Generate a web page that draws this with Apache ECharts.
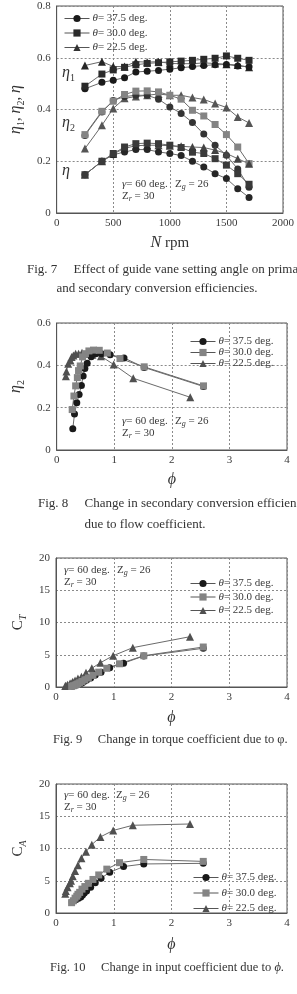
<!DOCTYPE html>
<html>
<head>
<meta charset="utf-8">
<script src="https://cdn.jsdelivr.net/npm/echarts@6/dist/echarts.min.js"></script>
<style>
  html, body { margin: 0; padding: 0; background: #fff; }
  #chart { width: 297px; height: 994px; }
</style>
</head>
<body>
<div id="chart"></div>
<script>
// rotational speed (Fig. 7) - every curve has one point per speed
const N_RPM = [250, 400, 500, 600, 700, 800, 900, 1000, 1100, 1200, 1300, 1400, 1500, 1600, 1700];

// primary efficiency eta1
const ETA1_375 = [0.48, 0.505, 0.513, 0.523, 0.545, 0.548, 0.551, 0.556, 0.561, 0.566, 0.57, 0.573, 0.574, 0.568, 0.565];
const ETA1_300 = [0.49, 0.537, 0.553, 0.563, 0.573, 0.578, 0.581, 0.584, 0.587, 0.59, 0.594, 0.598, 0.607, 0.598, 0.59];
const ETA1_225 = [0.57, 0.585, 0.566, 0.566, 0.585, 0.583, 0.585, 0.578, 0.577, 0.577, 0.58, 0.578, 0.575, 0.572, 0.563];

// secondary efficiency eta2
const ETA2_375 = [0.30, 0.39, 0.435, 0.45, 0.455, 0.455, 0.44, 0.41, 0.385, 0.35, 0.305, 0.262, 0.223, 0.17, 0.10];
const ETA2_300 = [0.303, 0.393, 0.432, 0.458, 0.471, 0.472, 0.468, 0.455, 0.44, 0.397, 0.375, 0.342, 0.303, 0.255, 0.191];
const ETA2_225 = [0.249, 0.339, 0.404, 0.443, 0.45, 0.455, 0.46, 0.455, 0.455, 0.446, 0.439, 0.423, 0.408, 0.371, 0.348];

// total efficiency eta
const ETA_375 = [0.148, 0.2, 0.225, 0.236, 0.245, 0.245, 0.236, 0.23, 0.222, 0.2, 0.178, 0.152, 0.133, 0.094, 0.06];
const ETA_300 = [0.148, 0.2, 0.23, 0.255, 0.268, 0.27, 0.268, 0.262, 0.253, 0.235, 0.23, 0.21, 0.185, 0.152, 0.111];
const ETA_225 = [0.148, 0.2, 0.228, 0.25, 0.26, 0.262, 0.262, 0.26, 0.258, 0.255, 0.253, 0.243, 0.23, 0.21, 0.19];

// flow coefficient phi, same speed order
const PHI_375 = [2.55, 1.52, 1.17, 0.93, 0.78, 0.68, 0.6, 0.53, 0.49, 0.46, 0.43, 0.39, 0.35, 0.31, 0.28];
const PHI_300 = [2.55, 1.52, 1.1, 0.88, 0.74, 0.64, 0.56, 0.5, 0.45, 0.41, 0.38, 0.36, 0.33, 0.3, 0.27];
const PHI_225 = [2.32, 1.33, 0.99, 0.77, 0.62, 0.52, 0.44, 0.38, 0.33, 0.29, 0.26, 0.24, 0.2, 0.17, 0.16];

// torque coefficient CT (Fig. 9)
const CT_375 = [6.0, 4.8, 3.7, 3.0, 2.3, 1.85, 1.4, 1.1, 0.9, 0.7, 0.55, 0.4, 0.3, 0.2, 0.1];
const CT_300 = [6.2, 4.85, 3.6, 2.9, 2.3, 1.8, 1.4, 1.1, 0.85, 0.65, 0.5, 0.4, 0.3, 0.2, 0.1];
const CT_225 = [7.8, 6.1, 4.85, 3.77, 2.9, 2.2, 1.6, 1.3, 1.0, 0.8, 0.6, 0.5, 0.35, 0.2, 0.15];

// input coefficient CA (Fig. 10)
const CA_375 = [7.7, 7.6, 7.2, 6.3, 5.4, 4.7, 4.0, 3.4, 3.1, 2.8, 2.5, 2.3, 2.1, 1.9, 1.7];
const CA_300 = [8.0, 8.3, 7.8, 6.8, 5.9, 5.2, 4.6, 4.1, 3.7, 3.2, 2.9, 2.6, 2.3, 1.9, 1.6];
const CA_225 = [13.8, 13.6, 12.8, 11.8, 10.6, 9.5, 8.5, 7.4, 6.5, 5.7, 5.0, 4.6, 4.0, 3.4, 3.0];

const ANGLES = ['37.5', '30.0', '22.5'];

const SERIF = '"Liberation Serif", "DejaVu Serif", serif';
const INK = '#3a3a3a';
const MARKS = {
  '37.5': { symbol: 'circle', size: 7 },
  '30.0': { symbol: 'rect', size: 7 },
  '22.5': { symbol: 'triangle', size: 8 }
};

const chart = echarts.init(document.getElementById('chart'), null, { renderer: 'canvas' });

function pairs(xs, ys) {
  return xs.map((x, i) => [x, ys[i]]);
}

function curve(name, idx, xs, ys, color) {
  return {
    type: 'line',
    name: name,
    xAxisIndex: idx,
    yAxisIndex: idx,
    data: pairs(xs, ys),
    symbol: MARKS[name].symbol,
    symbolSize: MARKS[name].size,
    showSymbol: true,
    itemStyle: { color: color },
    lineStyle: { color: '#6a6a6a', width: 1 },
    emphasis: { disabled: true },
    silent: true
  };
}

const rich = {
  i: { fontFamily: SERIF, fontStyle: 'italic', fontSize: 16, color: '#333', lineHeight: 20 },
  n: { fontFamily: SERIF, fontSize: 15, color: '#333', lineHeight: 20 },
  s: { fontFamily: SERIF, fontSize: 10, color: '#333', lineHeight: 10, verticalAlign: 'bottom' },
  si: { fontFamily: SERIF, fontStyle: 'italic', fontSize: 10, color: '#333', lineHeight: 10, verticalAlign: 'bottom' }
};

const smallRich = {
  t: { fontFamily: SERIF, fontSize: 11, color: INK, lineHeight: 14 },
  ti: { fontFamily: SERIF, fontStyle: 'italic', fontSize: 11, color: INK, lineHeight: 14 },
  s: { fontFamily: SERIF, fontStyle: 'italic', fontSize: 8, color: INK, lineHeight: 8, verticalAlign: 'bottom' }
};

function xAx(idx, max, interval, name, gap) {
  return {
    type: 'value', gridIndex: idx, min: 0, max: max, interval: interval,
    name: name, nameLocation: 'middle', nameGap: gap,
    nameTextStyle: { rich: rich },
    axisLine: { show: true, lineStyle: { color: '#555' } },
    axisTick: { show: false },
    axisLabel: { color: INK, fontFamily: SERIF, fontSize: 11, margin: 5, formatter: v => String(v) },
    splitLine: { show: true, lineStyle: { color: '#8a8a8a', type: [2, 2], width: 1 } }
  };
}

function yAx(idx, max, interval, name, gap) {
  return {
    type: 'value', gridIndex: idx, min: 0, max: max, interval: interval,
    name: name, nameLocation: 'middle', nameGap: gap, nameRotate: 90,
    nameTextStyle: { rich: rich },
    axisLine: { show: true, lineStyle: { color: '#555' } },
    axisTick: { show: false },
    axisLabel: { color: INK, fontFamily: SERIF, fontSize: 11, margin: 6 },
    splitLine: { show: true, lineStyle: { color: '#8a8a8a', type: [2, 2], width: 1 } }
  };
}

function legend(idx, left, top, gap, colors) {
  return {
    show: true, orient: 'vertical', left: left, top: top,
    itemWidth: 25, itemHeight: 9, itemGap: gap, padding: 0,
    selectedMode: false,
    data: ANGLES.map((a, i) => ({ name: a, itemStyle: { color: colors[i] }, lineStyle: { color: '#555', width: 1 } })),
    formatter: name => '{i|θ}{t|= ' + name + ' deg.}',
    textStyle: {
      fontFamily: SERIF, fontSize: 11, color: INK, padding: [0, 0, 0, -2],
      rich: {
        i: { fontFamily: SERIF, fontStyle: 'italic', fontSize: 11, color: INK },
        t: { fontFamily: SERIF, fontSize: 11, color: INK }
      }
    }
  };
}

function txt(x, y, text, extra) {
  return {
    type: 'text', x: x, y: y, silent: true,
    style: Object.assign({
      text: text, fill: '#333', fontFamily: SERIF, fontSize: 12.5,
      align: 'left', verticalAlign: 'middle'
    }, extra || {})
  };
}

function note(x, y, text) {
  return txt(x, y, text, { rich: smallRich, fontSize: 11, fill: INK });
}

const series = [];
const dark = ['#1a1a1a', '#2a2a2a', '#333'];
const shade = ['#1a1a1a', '#848484', '#505050'];

// Fig. 7
series.push(curve('22.5', 0, N_RPM, ETA1_225, '#262626'));
series.push(curve('37.5', 0, N_RPM, ETA1_375, '#1a1a1a'));
series.push(curve('30.0', 0, N_RPM, ETA1_300, '#2a2a2a'));
series.push(curve('22.5', 0, N_RPM, ETA2_225, '#555'));
series.push(curve('37.5', 0, N_RPM, ETA2_375, '#333'));
series.push(curve('30.0', 0, N_RPM, ETA2_300, '#848484'));
series.push(curve('22.5', 0, N_RPM, ETA_225, '#444'));
series.push(curve('37.5', 0, N_RPM, ETA_375, '#262626'));
series.push(curve('30.0', 0, N_RPM, ETA_300, '#3a3a3a'));

// Fig. 8 - 10
[[ETA2_375, ETA2_300, ETA2_225], [CT_375, CT_300, CT_225], [CA_375, CA_300, CA_225]].forEach((set, k) => {
  const idx = k + 1;
  series.push(curve('22.5', idx, PHI_225, set[2], shade[2]));
  series.push(curve('37.5', idx, PHI_375, set[0], shade[0]));
  series.push(curve('30.0', idx, PHI_300, set[1], shade[1]));
});

const gridBase = { show: true, borderColor: '#555', borderWidth: 1, backgroundColor: 'transparent' };

const option = {
  animation: false,
  backgroundColor: '#fff',
  grid: [
    Object.assign({ left: 54, top: 6, width: 233, height: 207 }, gridBase),
    Object.assign({ left: 56, top: 323, width: 231, height: 127 }, gridBase),
    Object.assign({ left: 56, top: 558, width: 231, height: 129 }, gridBase),
    Object.assign({ left: 56, top: 784, width: 231, height: 129 }, gridBase)
  ],
  xAxis: [
    xAx(0, 2000, 500, '{i|N}{n| rpm}', 20),
    xAx(1, 4, 1, '{i|ϕ}', 20),
    xAx(2, 4, 1, '{i|ϕ}', 21),
    xAx(3, 4, 1, '{i|ϕ}', 22)
  ],
  yAxis: [
    yAx(0, 0.8, 0.2, '{i|η}{s|1}{n|, }{i|η}{s|2}{n|, }{i|η}', 27),
    yAx(1, 0.6, 0.2, '{i|η}{s|2}', 27),
    yAx(2, 20, 5, '{n|C}{si|T}', 27),
    yAx(3, 20, 5, '{n|C}{si|A}', 27)
  ],
  legend: [
    legend(0, 64, 13, 3.5, dark),
    legend(1, 190, 336, 0, shade),
    legend(2, 190, 578, 2.5, shade),
    legend(3, 193, 872, 4.5, shade)
  ],
  series: series,
  graphic: [
    // curve labels, Fig. 7
    txt(62, 73, '{i|η}{s|1}', { rich: rich }),
    txt(62, 123, '{i|η}{s|2}', { rich: rich }),
    txt(62, 171, '{i|η}', { rich: rich }),
    // test conditions
    note(122, 184, '{ti|γ}{t|= 60 deg.}'),
    note(175, 184, '{t|Z}{s|g}{t| = 26}'),
    note(122, 196, '{t|Z}{s|r}{t| = 30}'),
    note(122, 421, '{ti|γ}{t|= 60 deg.}'),
    note(175, 421, '{t|Z}{s|g}{t| = 26}'),
    note(122, 433, '{t|Z}{s|r}{t| = 30}'),
    note(64, 570, '{ti|γ}{t|= 60 deg.}'),
    note(117, 570, '{t|Z}{s|g}{t| = 26}'),
    note(64, 582, '{t|Z}{s|r}{t| = 30}'),
    note(64, 795, '{ti|γ}{t|= 60 deg.}'),
    note(116, 795, '{t|Z}{s|g}{t| = 26}'),
    note(64, 807, '{t|Z}{s|r}{t| = 30}'),
    // captions
    txt(27, 270, 'Fig. 7\u2003 Effect of guide vane setting angle on primary', { fontSize: 13 }),
    txt(157, 289, 'and secondary conversion efficiencies.', { align: 'center', fontSize: 13 }),
    txt(38, 504, 'Fig. 8\u2003 Change in secondary conversion efficiency', { fontSize: 13 }),
    txt(145, 525, 'due to flow coefficient.', { align: 'center', fontSize: 13 }),
    txt(53, 740, 'Fig. 9\u2003 Change in torque coefficient due to \u03c6.'),
    txt(50, 968, 'Fig. 10\u2003 Change in input coefficient due to {i|ϕ}.', {
      rich: { i: { fontFamily: SERIF, fontStyle: 'italic', fontSize: 12.5, fill: '#333', color: '#333' } }
    })
  ]
};

chart.setOption(option);
</script>
</body>
</html>
